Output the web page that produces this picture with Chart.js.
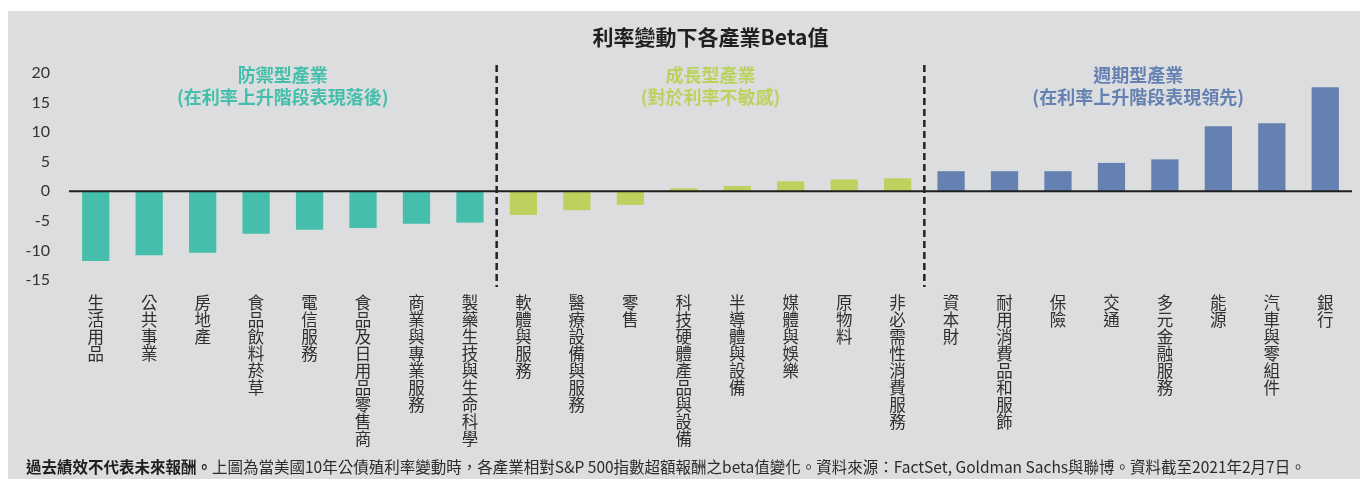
<!DOCTYPE html>
<html lang="zh-Hant">
<head>
<meta charset="utf-8">
<script src="https://cdn.jsdelivr.net/npm/chart.js@4/dist/chart.umd.min.js"></script>
<style>
  html, body { margin: 0; padding: 0; background: #fff; }
  #wrap { position: relative; width: 1360px; height: 479px; overflow: hidden; }
  #panel { position: absolute; left: 8px; top: 11px; right: 0; bottom: 0; background: #dcdddf; }
  #betaChart { position: absolute; left: 0; top: 0; }
  #note {
    position: absolute; left: 26px; top: 455px; white-space: nowrap;
    font: 15.5px "Noto Sans CJK TC", sans-serif; color: #2b2b2b;
  }
  #note b { font-weight: 700; color: #1e1e1e; }
</style>
</head>
<body>
<div id="wrap">
  <div id="panel"></div>
  <canvas id="betaChart" width="1360" height="479"></canvas>
  <div id="note"><b>過去績效不代表未來報酬。</b>上圖為當美國10年公債殖利率變動時，各產業相對S&amp;P 500指數超額報酬之beta值變化。資料來源：FactSet, Goldman Sachs與聯博。資料截至2021年2月7日。</div>
</div>
<script>
// ── 資料 ──────────────────────────────────────────────────────────────────
const TITLE = '利率變動下各產業Beta值';

const industries = [
  '生活用品', '公共事業', '房地產', '食品飲料菸草', '電信服務', '食品及日用品零售商', '商業與專業服務', '製藥生技與生命科學',
  '軟體與服務', '醫療設備與服務', '零售', '科技硬體產品與設備', '半導體與設備', '媒體與娛樂', '原物料', '非必需性消費服務',
  '資本財', '耐用消費品和服飾', '保險', '交通', '多元金融服務', '能源', '汽車與零組件', '銀行',
];

const betas = [
  -11.8, -10.8, -10.4, -7.2, -6.5, -6.2, -5.5, -5.3,
  -4.0, -3.2, -2.3, 0.5, 0.9, 1.7, 2.0, 2.2,
  3.4, 3.4, 3.4, 4.8, 5.4, 11.0, 11.5, 17.6,
];

const groupTitles = ['防禦型產業', '成長型產業', '週期型產業'];
const groupNotes  = ['(在利率上升階段表現落後)', '(對於利率不敏感)', '(在利率上升階段表現領先)'];
const groupSizes  = [8, 8, 8];
const groupColors = ['#45bfab', '#bdd25e', '#6581b2'];

const Y_MIN = -15, Y_MAX = 20, Y_STEP = 5;

// ── 輔助 ──────────────────────────────────────────────────────────────────

// 每根柱子所屬群組的顏色
const barColors = groupSizes.flatMap((n, g) => Array(n).fill(groupColors[g]));

// 直書標籤：每個字一行
const verticalLabels = industries.map(s => Array.from(s));

// 標題、群組說明、虛線分隔與零軸
const decorPlugin = {
  id: 'decor',
  afterDatasetsDraw(chart) {
    const { ctx, chartArea: area, scales: { x, y } } = chart;
    const half = (x.getPixelForValue(1) - x.getPixelForValue(0)) / 2;

    ctx.save();

    // 零軸
    const y0 = y.getPixelForValue(0);
    ctx.strokeStyle = '#1f1f1f';
    ctx.lineWidth = 2;
    ctx.beginPath();
    ctx.moveTo(area.left, y0);
    ctx.lineTo(area.right, y0);
    ctx.stroke();

    // 標題
    ctx.fillStyle = '#1f1f1f';
    ctx.font = 'bold 21px "Noto Sans CJK TC", sans-serif';
    ctx.textAlign = 'center';
    ctx.textBaseline = 'middle';
    ctx.fillText(TITLE, (area.left + area.right) / 2, 37);

    // 群組
    let start = 0;
    groupSizes.forEach((n, g) => {
      const left  = x.getPixelForValue(start) - half;
      const right = x.getPixelForValue(start + n - 1) + half;
      const cx = (left + right) / 2;

      ctx.fillStyle = groupColors[g];
      ctx.font = 'bold 18px "Noto Sans CJK TC", sans-serif';
      ctx.fillText(groupTitles[g], cx, 75);
      ctx.fillText(groupNotes[g], cx, 97);

      if (g > 0) {
        ctx.strokeStyle = '#222';
        ctx.lineWidth = 2.5;
        ctx.setLineDash([7, 4]);
        ctx.beginPath();
        ctx.moveTo(left, area.top - 8);
        ctx.lineTo(left, area.bottom + 7);
        ctx.stroke();
        ctx.setLineDash([]);
      }
      start += n;
    });

    ctx.restore();
  },
};

new Chart(document.getElementById('betaChart'), {
  type: 'bar',
  data: {
    labels: verticalLabels,
    datasets: [{
      data: betas,
      backgroundColor: barColors,
      borderWidth: 0,
      categoryPercentage: 1,
      barPercentage: 0.51,
    }],
  },
  options: {
    responsive: false,
    animation: false,
    layout: { padding: { top: 73, right: 8, left: 0, bottom: 0 } },
    plugins: {
      legend: { display: false },
      tooltip: { enabled: false },
    },
    scales: {
      x: {
        grid: { display: false },
        border: { display: false },
        ticks: {
          autoSkip: false,
          maxRotation: 0,
          minRotation: 0,
          padding: 6,
          color: '#2f2f2f',
          font: { family: '"Noto Sans CJK TC", sans-serif', size: 16.5, lineHeight: 1.03 },
        },
        afterFit: s => { s.height = 199; },
      },
      y: {
        min: Y_MIN,
        max: Y_MAX,
        grid: { display: false, drawTicks: false },
        border: { display: false },
        ticks: {
          stepSize: Y_STEP,
          padding: 19,
          color: '#333',
          font: { family: 'Lato, sans-serif', size: 16 },
        },
        afterFit: s => { s.width = 69; },
      },
    },
  },
  plugins: [decorPlugin],
});
</script>
</body>
</html>
